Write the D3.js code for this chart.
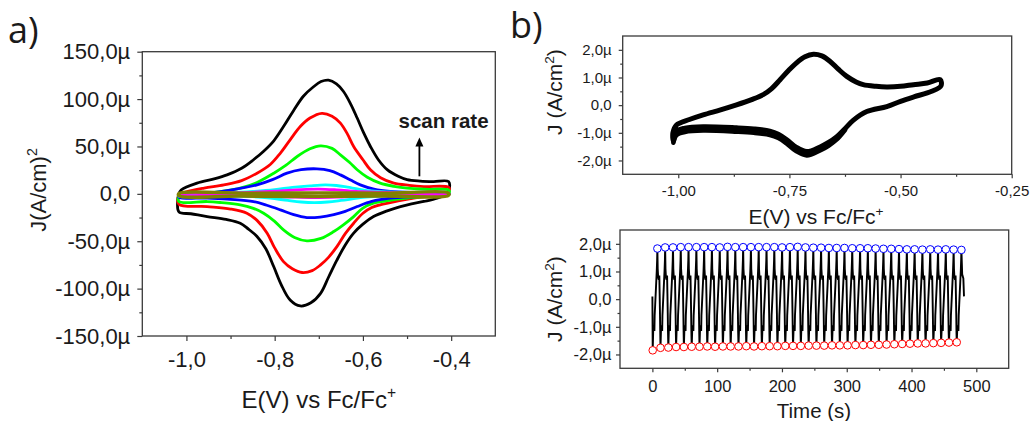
<!DOCTYPE html>
<html>
<head>
<meta charset="utf-8">
<script src="https://cdn.jsdelivr.net/npm/d3@7"></script>
<style>
  body { margin: 0; background: #fff; }
  text { font-family: "Liberation Sans", Arial, sans-serif; }
</style>
</head>
<body>
<script>
// ---------- panel a: CV at several scan rates, [E (V), J (µA/cm2)] ----------
// each loop: anodic branch left -> right, then cathodic branch right -> left
var cvBlack = [[-1.017,0],[-1.012,4],[-0.976,11.3],[-0.935,16],[-0.908,20],[-0.875,27],[-0.848,36],[-0.825,45],[-0.802,56],[-0.78,71],[-0.757,88],[-0.735,103],[-0.712,113],[-0.695,118.5],[-0.678,120],[-0.66,116],[-0.644,108],[-0.628,95],[-0.613,80],[-0.598,64],[-0.583,50],[-0.565,36],[-0.545,25.5],[-0.52,18.5],[-0.5,15],[-0.47,13.5],[-0.44,13],[-0.406,13],
  [-0.404,6],[-0.41,0.7],[-0.432,-4.6],[-0.462,-8],[-0.49,-10.5],[-0.515,-13.4],[-0.545,-18],[-0.576,-24],[-0.6,-32],[-0.621,-41.5],[-0.64,-54],[-0.659,-70],[-0.678,-88],[-0.696,-105],[-0.718,-115],[-0.742,-118.3],[-0.765,-112],[-0.785,-96],[-0.802,-77],[-0.82,-58],[-0.84,-45],[-0.86,-37],[-0.878,-31],[-0.91,-27],[-0.953,-24],[-0.99,-21],[-1.017,-19]];
var cvRed = [[-1.017,-1],[-1.0,2],[-0.96,6],[-0.915,9.5],[-0.875,14],[-0.84,21.8],[-0.81,31],[-0.787,43],[-0.765,57],[-0.742,71],[-0.72,80],[-0.693,85],[-0.67,82],[-0.651,74.7],[-0.635,63],[-0.621,50],[-0.6,36],[-0.583,25.4],[-0.56,17],[-0.53,11.3],[-0.495,9],[-0.462,7.7],[-0.406,7],
  [-0.404,4],[-0.41,0.7],[-0.45,-2.5],[-0.485,-4.6],[-0.52,-7.5],[-0.561,-11.6],[-0.58,-14.5],[-0.6,-20.5],[-0.621,-31],[-0.64,-42],[-0.659,-55.7],[-0.678,-67],[-0.696,-75],[-0.715,-81],[-0.738,-83],[-0.76,-79],[-0.78,-71.5],[-0.8,-57],[-0.817,-41.5],[-0.84,-28],[-0.863,-20.4],[-0.9,-16],[-0.953,-13.4],[-1.017,-11]];
var cvGreen = [[-1.017,-2],[-0.97,-0.5],[-0.92,2.5],[-0.878,6],[-0.84,12],[-0.802,21.8],[-0.775,30],[-0.749,39.4],[-0.72,47.5],[-0.696,50.7],[-0.67,48],[-0.651,41.2],[-0.63,33],[-0.613,25.4],[-0.59,17.5],[-0.561,11.3],[-0.53,8],[-0.5,6],[-0.45,4.8],[-0.406,4.2],
  [-0.404,1.5],[-0.41,-0.4],[-0.46,-2.8],[-0.5,-4.6],[-0.54,-7],[-0.576,-9.8],[-0.6,-15],[-0.621,-24],[-0.645,-33],[-0.666,-39.8],[-0.695,-47],[-0.727,-49.6],[-0.755,-46],[-0.78,-38],[-0.8,-29],[-0.825,-20.4],[-0.85,-15],[-0.878,-11.6],[-0.92,-9.3],[-0.953,-8.1],[-1.017,-8.1]];
var cvBlue = [[-1.017,-1.5],[-0.953,0.7],[-0.9,4],[-0.84,9.5],[-0.805,15],[-0.772,21.8],[-0.74,25.5],[-0.704,26.4],[-0.675,24.5],[-0.651,20],[-0.628,14.5],[-0.606,9.5],[-0.575,5],[-0.538,2.5],[-0.48,1.3],[-0.406,0.7],
  [-0.404,-0.3],[-0.41,-1.1],[-0.48,-2.8],[-0.538,-4.6],[-0.58,-8],[-0.613,-13.4],[-0.64,-18.5],[-0.666,-22],[-0.697,-24.5],[-0.727,-25],[-0.757,-22],[-0.787,-16.9],[-0.818,-12],[-0.848,-8.1],[-0.9,-5.8],[-0.953,-4.6],[-1.017,-3.5]];
var cvCyan = [[-1.017,-0.5],[-0.95,0.2],[-0.9,1],[-0.85,2.5],[-0.8,4.5],[-0.76,6.8],[-0.72,8.5],[-0.685,9.5],[-0.66,8.8],[-0.635,7],[-0.61,5],[-0.58,3],[-0.54,2],[-0.5,1.5],[-0.406,1],
  [-0.406,-0.5],[-0.48,-1.2],[-0.55,-2],[-0.6,-3.8],[-0.65,-7],[-0.68,-8.6],[-0.71,-9.2],[-0.74,-8.6],[-0.77,-7],[-0.81,-4.5],[-0.85,-3],[-0.95,-2],[-1.017,-2.5]];
var cvMagenta = [[-1.017,0],[-0.9,1],[-0.8,2.8],[-0.74,4.5],[-0.7,5],[-0.66,4.2],[-0.6,2.2],[-0.5,1.2],[-0.406,0.8],
  [-0.406,-0.3],[-0.5,-0.8],[-0.6,-2],[-0.66,-3.5],[-0.71,-4],[-0.76,-3.4],[-0.82,-2.2],[-0.9,-1.5],[-1.017,-1]];
var cvOlive = [[-1.017,0.3],[-0.85,0.6],[-0.7,1.0],[-0.55,0.8],[-0.406,0.8],
  [-0.406,-1.6],[-0.55,-2.2],[-0.72,-2.8],[-0.88,-2.4],[-1.017,-2.0]];

var seriesA = [cvBlack, cvRed, cvGreen, cvBlue, cvCyan, cvMagenta, cvOlive];
var colorsA = ['#000000', '#ff0000', '#00ff00', '#0000ff', '#00ffff', '#ff00ff', '#808000'];

var xTicksA = [-1.0, -0.8, -0.6, -0.4];
var xMinorA = [-0.9, -0.7, -0.5];
var yTicksA = [-150, -100, -50, 0, 50, 100, 150];
var yMinorA = [-125, -75, -25, 25, 75, 125];

// ---------- panel b (top): repeated CV cycles, [E (V), J (µA/cm2)] ----------
var cvCycle = [[-1.012,-1.0],[-1.004,-0.72],[-0.975,-0.52],[-0.944,-0.35],[-0.905,-0.17],[-0.869,0.01],[-0.835,0.2],[-0.809,0.38],[-0.79,0.6],[-0.771,0.92],[-0.752,1.25],[-0.734,1.53],[-0.715,1.75],[-0.696,1.84],[-0.677,1.78],[-0.659,1.59],[-0.64,1.3],[-0.621,1.04],[-0.6,0.84],[-0.584,0.74],[-0.555,0.68],[-0.531,0.66],[-0.5,0.68],[-0.471,0.74],[-0.44,0.8],[-0.411,0.92],
  [-0.409,0.7],[-0.43,0.5],[-0.47,0.3],[-0.5,0.14],[-0.531,-0.05],[-0.576,-0.23],[-0.606,-0.54],[-0.625,-0.85],[-0.644,-1.15],[-0.662,-1.35],[-0.681,-1.51],[-0.711,-1.68],[-0.735,-1.52],[-0.756,-1.25],[-0.775,-1.05],[-0.794,-0.94],[-0.83,-0.86],[-0.869,-0.82],[-0.944,-0.78],[-0.985,-0.83],[-1.004,-0.94],[-1.011,-1.3]];
// later cycles drift lower on the cathodic side, widening the band
var cvCycleLate = [[-0.625,-0.9],[-0.644,-1.25],[-0.662,-1.47],[-0.681,-1.64],[-0.711,-1.82],[-0.735,-1.66],[-0.756,-1.39],[-0.775,-1.19],[-0.794,-1.08],[-0.83,-1.0],[-0.869,-0.96],[-0.944,-0.92],[-0.985,-0.97],[-1.004,-1.08],[-1.011,-1.36]];

var xTicksB = [-1.0, -0.75, -0.5, -0.25];
var xMinorB = [-0.875, -0.625, -0.375];
var yTicksB = [-2, -1, 0, 1, 2];
var yMinorB = [-1.5, -0.5, 0.5, 1.5];

// ---------- panel b (bottom): current vs time ----------
// cathodic peaks (red circles) and anodic peaks (blue circles), time in s, J in µA/cm2
var redT = [0.5,12.5,24.6,36.6,48.6,60.7,72.7,84.7,96.8,108.8,120.8,132.9,144.9,156.9,169.0,181.0,193.0,205.1,217.1,229.1,241.2,253.2,265.2,277.3,289.3,301.3,313.4,325.4,337.4,349.5,361.5,373.5,385.6,397.6,409.6,421.7,433.7,445.7,457.8,469.8];
var redJ = [-1.85,-1.76,-1.75,-1.73,-1.73,-1.72,-1.72,-1.71,-1.72,-1.71,-1.71,-1.71,-1.70,-1.71,-1.70,-1.70,-1.70,-1.69,-1.69,-1.69,-1.68,-1.68,-1.68,-1.67,-1.67,-1.67,-1.66,-1.66,-1.65,-1.65,-1.64,-1.63,-1.62,-1.61,-1.60,-1.60,-1.59,-1.58,-1.57,-1.56];
var blueT = [7.7,19.7,31.8,43.8,55.8,67.9,79.9,91.9,104.0,116.0,128.0,140.1,152.1,164.1,176.2,188.2,200.2,212.3,224.3,236.3,248.4,260.4,272.4,284.5,296.5,308.5,320.6,332.6,344.6,356.7,368.7,380.7,392.8,404.8,416.8,428.9,440.9,452.9,465.0,477.0];
var blueJ = [1.83,1.87,1.87,1.88,1.88,1.88,1.88,1.88,1.87,1.89,1.88,1.88,1.88,1.88,1.88,1.88,1.87,1.88,1.89,1.87,1.86,1.86,1.85,1.85,1.85,1.84,1.84,1.84,1.83,1.82,1.82,1.81,1.80,1.80,1.79,1.80,1.79,1.80,1.79,1.78];
// shape of one cycle between the peaks, [seconds after cathodic peak, J]
var cycleRise = [[0.8,-1.1],[1.6,-0.95],[2.6,-1.15],[3.0,-0.6],[3.8,-0.2],[4.6,0.2],[5.4,0.6],[6.2,1.0],[6.8,1.4]];
var cycleFall = [[7.7,1.1],[8.4,0.8],[9.4,0.7],[10.2,0.85],[10.7,0.2],[11.2,-0.5],[11.6,-1.2]];
var traceStart = [[0, 0.1]];
var traceEnd = [[478.2, 0.9], [480.0, 0.75], [481.0, 0.1]];

var xTicksC = [0, 100, 200, 300, 400, 500];
var xMinorC = [50, 150, 250, 350, 450];

// ---------- drawing ----------
var W = 1033, H = 421;
var axisColor = '#3a3a3a';
var textColor = '#1a1a1a';

var svg = d3.select('body').append('svg')
  .attr('width', W)
  .attr('height', H)
  .style('background', '#fff');

function fmtDec(n, suffix) {
  return function (d) {
    if (d === 0) return n === 1 ? '0,0' : '0,' + '0'.repeat(n);
    var s = Math.abs(d).toFixed(n).replace('.', ',');
    return (d < 0 ? '-' : '') + s + (suffix || '');
  };
}

// draws box, ticks (outward) and tick labels for one panel
function frame(x, y, o) {
  var g = svg.append('g');
  var x0 = x.range()[0], x1 = x.range()[1];
  var y0 = y.range()[0], y1 = y.range()[1];

  var xa = g.append('g')
    .attr('transform', 'translate(0,' + y0 + ')')
    .call(d3.axisBottom(x).tickValues(o.xTicks).tickFormat(o.xFmt)
      .tickSize(o.tick).tickSizeOuter(0).tickPadding(o.xPad));
  var xm = g.append('g')
    .attr('transform', 'translate(0,' + y0 + ')')
    .call(d3.axisBottom(x).tickValues(o.xMinor).tickFormat('').tickSize(o.minor));
  var ya = g.append('g')
    .attr('transform', 'translate(' + x0 + ',0)')
    .call(d3.axisLeft(y).tickValues(o.yTicks).tickFormat(o.yFmt)
      .tickSize(o.tick).tickSizeOuter(0).tickPadding(o.yPad));
  var ym = g.append('g')
    .attr('transform', 'translate(' + x0 + ',0)')
    .call(d3.axisLeft(y).tickValues(o.yMinor).tickFormat('').tickSize(o.minor));

  [xa, xm, ya, ym].forEach(function (a) {
    a.select('.domain').remove();
    a.selectAll('line').attr('stroke', axisColor).attr('stroke-width', 1.2);
    a.attr('font-family', null).attr('font-size', null);
  });
  xa.selectAll('text').attr('font-size', o.xFont).attr('fill', textColor);
  ya.selectAll('text').attr('font-size', o.yFont).attr('fill', textColor);

  g.append('rect')
    .attr('x', x0).attr('y', y1)
    .attr('width', x1 - x0).attr('height', y0 - y1)
    .attr('fill', 'none')
    .attr('stroke', axisColor)
    .attr('stroke-width', 1.3);
  return g;
}

function label(txt, x, y, size, opts) {
  opts = opts || {};
  var t = svg.append('text')
    .attr('x', x).attr('y', y)
    .attr('font-size', size)
    .attr('fill', textColor)
    .attr('text-anchor', opts.anchor || 'start');
  if (opts.family) t.style('font-family', opts.family);
  if (opts.weight) t.attr('font-weight', opts.weight);
  if (opts.rotate) t.attr('transform', 'rotate(-90,' + x + ',' + y + ')');
  txt.forEach(function (p) {
    var s = t.append('tspan').text(p.t);
    if (p.sup) s.attr('font-size', size * 0.65).attr('dy', -size * 0.4);
    if (p.back) s.attr('dy', size * 0.4);
  });
  return t;
}

// ----- panel a -----
var xA = d3.scaleLinear().domain([-1.1, -0.3]).range([142.3, 495.3]);
var yA = d3.scaleLinear().domain([-150, 150]).range([336, 51.7]);

frame(xA, yA, {
  xTicks: xTicksA, xMinor: xMinorA, yTicks: yTicksA, yMinor: yMinorA,
  xFmt: fmtDec(1), yFmt: fmtDec(1, 'µ'),
  tick: 5, minor: 3, xPad: 10, yPad: 7, xFont: 22, yFont: 22
});

var lineA = d3.line()
  .x(function (d) { return xA(d[0]); })
  .y(function (d) { return yA(d[1]); })
  .curve(d3.curveCatmullRomClosed.alpha(0.5));

svg.append('g').selectAll('path')
  .data(seriesA)
  .join('path')
  .attr('d', lineA)
  .attr('fill', 'none')
  .attr('stroke', function (d, i) { return colorsA[i]; })
  .attr('stroke-width', function (d, i) { return i === 6 ? 3.4 : 2.8; })
  .attr('stroke-linejoin', 'round');

// scan rate arrow
var arrowX = xA(-0.472);
svg.append('line')
  .attr('x1', arrowX).attr('x2', arrowX)
  .attr('y1', yA(18.5)).attr('y2', yA(53))
  .attr('stroke', '#000').attr('stroke-width', 1.8);
svg.append('path')
  .attr('d', d3.line()([[arrowX - 4, yA(50)], [arrowX, yA(59.5)], [arrowX + 4, yA(50)]]) + 'Z')
  .attr('fill', '#000');
label([{ t: 'scan rate' }], 398.5, 128, 20.5, { weight: 'bold' });

label([{ t: 'E(V) vs Fc/Fc' }, { t: '+', sup: true }], 318.8, 408, 24, { anchor: 'middle' });
label([{ t: 'J(A/cm)' }, { t: '2', sup: true }], 45.5, 190, 22, { anchor: 'middle', rotate: true });
label([{ t: 'a)' }], 8, 43, 36, { family: '"Open Sans", sans-serif' });
label([{ t: 'b)' }], 510, 38, 36, { family: '"Open Sans", sans-serif' });

// ----- panel b top -----
var xB = d3.scaleLinear().domain([-1.125, -0.25]).range([622.7, 1011.7]);
var yB = d3.scaleLinear().domain([-2.5, 2.5]).range([174.3, 36]);

frame(xB, yB, {
  xTicks: xTicksB, xMinor: xMinorB, yTicks: yTicksB, yMinor: yMinorB,
  xFmt: fmtDec(2), yFmt: fmtDec(1, 'µ'),
  tick: 4, minor: 2.5, xPad: 7, yPad: 7, xFont: 15, yFont: 15
});

var lineB = d3.line()
  .x(function (d) { return xB(d[0]); })
  .y(function (d) { return yB(d[1]); });

svg.append('path')
  .datum(cvCycle)
  .attr('d', lineB.curve(d3.curveCatmullRomClosed.alpha(0.5)))
  .attr('fill', 'none')
  .attr('stroke', '#000')
  .attr('stroke-width', 5)
  .attr('stroke-linejoin', 'round');

svg.append('path')
  .datum(cvCycleLate)
  .attr('d', lineB.curve(d3.curveCatmullRom.alpha(0.5)))
  .attr('fill', 'none')
  .attr('stroke', '#000')
  .attr('stroke-width', 4.5)
  .attr('stroke-linecap', 'round')
  .attr('stroke-linejoin', 'round');

label([{ t: 'E(V) vs Fc/Fc' }, { t: '+', sup: true }], 816, 224, 21, { anchor: 'middle' });
label([{ t: 'J (A/cm' }, { t: '2', sup: true }, { t: ')', back: true }], 562, 92, 21, { anchor: 'middle', rotate: true });

// ----- panel b bottom -----
var xC = d3.scaleLinear().domain([-50, 550]).range([620, 1008.7]);
var yC = d3.scaleLinear().domain([-2.5, 2.5]).range([368.3, 230]);

frame(xC, yC, {
  xTicks: xTicksC, xMinor: xMinorC, yTicks: yTicksB, yMinor: yMinorB,
  xFmt: d3.format('d'), yFmt: fmtDec(1, 'µ'),
  tick: 4, minor: 2.5, xPad: 7.5, yPad: 4.5, xFont: 16.5, yFont: 16.5
});

// trace: every cycle goes cathodic peak -> rise -> anodic peak -> fall
var trace = traceStart.slice();
redT.forEach(function (t0, i) {
  trace.push([t0, redJ[i]]);
  cycleRise.forEach(function (p) { trace.push([t0 + p[0], p[1]]); });
  trace.push([blueT[i], blueJ[i]]);
  if (i < redT.length - 1) {
    cycleFall.forEach(function (p) { trace.push([t0 + p[0], p[1]]); });
  }
});
trace = trace.concat(traceEnd);

svg.append('path')
  .datum(trace)
  .attr('d', d3.line()
    .x(function (d) { return xC(d[0]); })
    .y(function (d) { return yC(d[1]); }))
  .attr('fill', 'none')
  .attr('stroke', '#000')
  .attr('stroke-width', 1.9);

svg.append('g').selectAll('circle')
  .data(redT)
  .join('circle')
  .attr('cx', function (d) { return xC(d); })
  .attr('cy', function (d, i) { return yC(redJ[i]); })
  .attr('r', 3.8)
  .attr('fill', '#fff')
  .attr('stroke', '#ff0000')
  .attr('stroke-width', 1);

svg.append('g').selectAll('circle')
  .data(blueT)
  .join('circle')
  .attr('cx', function (d) { return xC(d); })
  .attr('cy', function (d, i) { return yC(blueJ[i]); })
  .attr('r', 3.8)
  .attr('fill', '#fff')
  .attr('stroke', '#0000ff')
  .attr('stroke-width', 1);

label([{ t: 'Time (s)' }], 814, 418, 20.5, { anchor: 'middle' });
label([{ t: 'J (A/cm' }, { t: '2', sup: true }, { t: ')', back: true }], 562, 299, 21, { anchor: 'middle', rotate: true });
</script>
</body>
</html>
